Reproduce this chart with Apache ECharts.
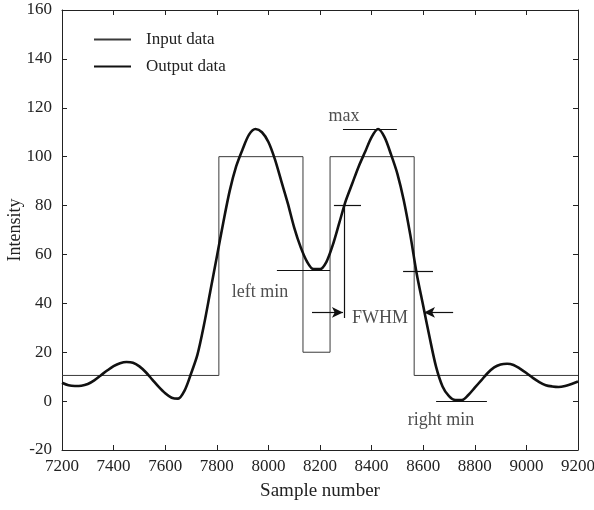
<!DOCTYPE html>
<html>
<head>
<meta charset="utf-8">
<script src="https://cdn.jsdelivr.net/npm/echarts@6/dist/echarts.min.js"></script>
<style>
  html, body { margin: 0; padding: 0; background: #fff; }
  #chart { width: 594px; height: 510px; }
</style>
</head>
<body>
<div id="chart"></div>
<script>
// input: rectangular pulses (step edges)
const inputX = [7200, 7808, 8134, 8239, 8565, 9200];
const inputY = [10.5, 100, 20, 100, 10.5, 10.5];

// output: smoothed response
const outputX = [7200, 7225, 7250, 7275, 7300, 7325, 7350, 7375, 7400, 7425, 7450, 7475, 7500, 7525, 7550, 7575, 7600, 7625, 7650, 7675, 7700, 7725, 7750, 7775, 7800, 7825, 7850, 7875, 7900, 7925, 7950, 7975, 8000, 8025, 8050, 8075, 8100, 8125, 8150, 8175, 8200, 8225, 8250, 8275, 8300, 8325, 8350, 8375, 8400, 8425, 8450, 8475, 8500, 8525, 8550, 8575, 8600, 8625, 8650, 8675, 8700, 8725, 8750, 8775, 8800, 8825, 8850, 8875, 8900, 8925, 8950, 8975, 9000, 9025, 9050, 9075, 9100, 9125, 9150, 9175, 9200];
const outputY = [7.5, 6.5, 6.2, 6.3, 7.0, 8.5, 10.5, 12.5, 14.3, 15.5, 16.0, 15.7, 14.2, 11.8, 8.8, 5.8, 3.2, 1.4, 1.0, 4.3, 11.2, 19, 31, 45, 59, 73, 86, 96, 103, 109, 111.3, 110, 106, 99, 90, 81, 71, 63, 57, 54, 54, 57, 64, 73, 82, 89, 96, 102, 108, 111.3, 108, 101, 93, 82, 68, 52, 39, 26, 14, 6, 2, 0.4, 0.4, 2.5, 5.5, 8.5, 11.5, 13.8, 15, 15.3, 14.8, 13.3, 11.5, 9.5, 7.8, 6.5, 6, 5.8, 6.2, 7, 8];

const xTicks = [7200, 9200, 200];
const yTicks = [-20, 160, 20];

// annotation segments [x1, y1, x2, y2, arrowAtEnd]
const segments = [
  [8289, 111.3, 8498, 111.3, false],
  [8254, 80, 8359, 80, false],
  [8293, 80, 8293, 34, false],
  [8033, 53.5, 8239, 53.5, false],
  [8522, 53, 8638, 53, false],
  [8650, 0, 8847, 0, false],
  [8169, 36.3, 8289, 36.3, true],
  [8716, 36.3, 8603, 36.3, true]
];

const noteText = ["max", "left min", "FWHM", "right min"];
const noteX = [8293, 7967, 8324, 8669];
const noteY = [116.7, 44.5, 34, -7.8];
const noteAlign = ["center", "center", "left", "center"];

const ink = "#222";
const font = "Liberation Serif";

const chart = echarts.init(document.getElementById("chart"));

const lineSeg = segments.map(s => [
  { coord: [s[0], s[1]], symbol: "none" },
  { coord: [s[2], s[3]], symbol: s[4] ? "arrow" : "none", symbolSize: [8, 11] }
]);

const axisCommon = {
  type: "value",
  axisLine: { show: true, onZero: false, lineStyle: { color: ink, width: 1 } },
  axisTick: { show: true, inside: true, length: 5, lineStyle: { color: ink } },
  splitLine: { show: false }
};

const option = {
  animation: false,
  textStyle: { fontFamily: font },
  grid: { left: 62, right: 16, top: 10, bottom: 60, containLabel: false, outerBoundsMode: "none" },
  legend: {
    orient: "vertical",
    left: 88,
    top: 26,
    itemWidth: 37,
    itemHeight: 14,
    itemGap: 10,
    itemStyle: { opacity: 0 },
    data: ["Input data", "Output data"],
    textStyle: { fontFamily: font, fontSize: 17, color: ink, padding: [0, 0, 0, 10] }
  },
  xAxis: [
    Object.assign({}, axisCommon, {
      min: xTicks[0], max: xTicks[1], interval: xTicks[2],
      position: "bottom",
      name: "Sample number",
      nameLocation: "middle",
      nameGap: 32,
      nameMoveOverlap: false,
      nameTextStyle: { fontFamily: font, fontSize: 19, color: ink },
      axisLabel: { margin: 8, fontFamily: font, fontSize: 17, color: ink, formatter: v => String(v) }
    }),
    Object.assign({}, axisCommon, {
      min: xTicks[0], max: xTicks[1], interval: xTicks[2],
      position: "top",
      axisLabel: { show: false }
    })
  ],
  yAxis: [
    Object.assign({}, axisCommon, {
      min: yTicks[0], max: yTicks[1], interval: yTicks[2],
      position: "left",
      name: "Intensity",
      nameLocation: "middle",
      nameGap: 38,
      nameRotate: 90,
      nameMoveOverlap: false,
      nameTextStyle: { fontFamily: font, fontSize: 18, color: ink },
      axisLabel: { margin: 10, fontFamily: font, fontSize: 17, color: ink, formatter: v => String(v) }
    }),
    Object.assign({}, axisCommon, {
      min: yTicks[0], max: yTicks[1], interval: yTicks[2],
      position: "right",
      axisLabel: { show: false }
    })
  ],
  series: [
    {
      name: "Input data",
      type: "line",
      step: "end",
      symbol: "none",
      color: "#3a3a3a",
      lineStyle: { width: 1, color: "#3a3a3a" },
      data: inputX.map((x, i) => [x, inputY[i]])
    },
    {
      name: "Output data",
      type: "line",
      smooth: 0.3,
      symbol: "none",
      color: "#111",
      lineStyle: { width: 2.6, color: "#111" },
      data: outputX.map((x, i) => [x, outputY[i]])
    },
    {
      name: "notes",
      type: "line",
      data: [],
      markLine: {
        silent: true,
        animation: false,
        label: { show: false },
        lineStyle: { type: "solid", color: "#111", width: 1.2 },
        itemStyle: { color: "#111" },
        data: lineSeg
      }
    },
    {
      name: "labels",
      type: "scatter",
      symbolSize: 0,
      data: noteX.map((x, i) => ({
        value: [x, noteY[i]],
        label: {
          show: true,
          position: "inside",
          align: noteAlign[i],
          formatter: noteText[i],
          fontFamily: font,
          fontSize: 18,
          color: ink
        }
      }))
    }
  ]
};

chart.setOption(option);
</script>
</body>
</html>
